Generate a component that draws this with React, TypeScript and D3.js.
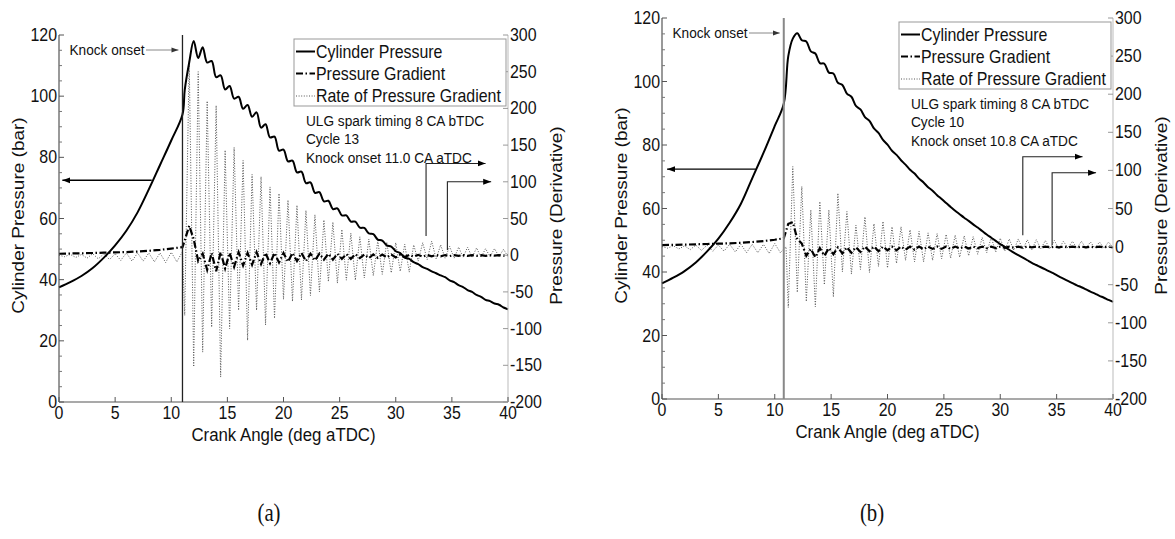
import * as d3 from 'd3';
import React from 'react';

// ---- data ----

// axis ranges and ticks
const angleDomain = [0, 40];
const pressureDomain = [0, 120];
const derivDomain = [-200, 300];
const angleTicks = [0, 5, 10, 15, 20, 25, 30, 35, 40];
const pressureTicks = [0, 20, 40, 60, 80, 100, 120];
const pressureMinor = [5, 10, 15, 25, 30, 35, 45, 50, 55, 65, 70, 75, 85, 90, 95, 105, 110, 115];
const derivTicks = [-200, -150, -100, -50, 0, 50, 100, 150, 200, 250, 300];

// crank angle samples after knock onset (deg aTDC)
const knockAngles = [
  11.2, 11.6, 12.0, 12.4, 12.8, 13.2, 13.6, 14.0, 14.4, 14.8,
  15.2, 15.6, 16.0, 16.4, 16.8, 17.2, 17.6, 18.0, 18.4, 18.8,
  19.2, 19.6, 20.0, 20.4, 20.8, 21.2, 21.6, 22.0, 22.4, 22.8,
  23.2, 23.6, 24.0, 24.4, 24.8, 25.2, 25.6, 26.0, 26.4, 26.8,
  27.2, 27.6, 28.0, 28.4, 28.8, 29.2, 29.6, 30.0, 30.4, 30.8,
  31.2, 31.6, 32.0, 32.4, 32.8, 33.2, 33.6, 34.0, 34.4, 34.8,
  35.2, 35.6, 36.0, 36.4, 36.8, 37.2, 37.6, 38.0, 38.4, 38.8,
  39.2, 39.6, 40.0,
];
// rate samples before knock
const preRateAngles = [0, 0.5, 1, 1.5, 2, 2.5, 3, 3.5, 4, 4.5, 5, 5.5, 6, 6.5, 7, 7.5, 8, 8.5, 9, 9.5, 10, 10.5, 11];

// ---- (a) cycle 13 ----
const preAnglesA = [0, 1, 2, 3, 4, 5, 6, 7, 8, 9, 10, 11];
const prePressureA = [37.5, 39.2, 41.2, 43.8, 47.2, 51.2, 56, 62, 69.5, 77.5, 85.5, 94];
const preGradientA = [2, 2.3, 2.6, 3, 3.4, 3.8, 4.3, 5, 6, 7.3, 9, 11];
const preRateA = [0, -2, 1, -3, 1, -4, 2, -5, 2, -6, 2, -7, 3, -8, 3, -8, 3, -9, 3, -10, 4, -9, 5];
const pressureA = [
  102, 111, 118, 112.5, 116, 111, 111.5, 106.2, 106.8, 102.2,
  103.3, 99.2, 99.8, 95.9, 97.1, 93.3, 94.7, 89.7, 90.8, 86.5,
  86.8, 82.2, 82.5, 78.7, 78.9, 75.1, 75.3, 71.6, 71.8, 68.4,
  68.6, 65.6, 65.8, 63.1, 63.3, 61.0, 61.0, 59.0, 59.0, 57.0,
  56.9, 55.1, 54.9, 53.1, 52.8, 51.2, 50.8, 49.3, 48.7, 47.2,
  46.8, 45.7, 45.1, 44.1, 43.5, 42.7, 42.1, 41.4, 40.8, 39.8,
  39.2, 38.2, 37.6, 36.6, 36.0, 35.0, 34.4, 33.4, 33.0, 32.2,
  31.8, 30.9, 30.3,
];
const gradientA = [
  20, 40, 22, -8, 2, -20, 3, -22, 4, -18,
  3, -16, 4, -14, 3, -13, 4, -12, 3, -11,
  3, -10, 3, -9, 3, -8, 3, -8, 2, -7,
  2, -6, 2, -6, 2, -5, 1.5, -5, 1.5, -4,
  1, -4, 1, -3.5, 1, -3, 1, -3, 0.5, -2.5,
  0.5, -2, 0.5, -2, 0.3, -1.5, 0.3, -1.5, 0.2, -1.2,
  0.2, -1, 0.2, -1, 0, -0.8, 0, -0.8, 0, -0.6,
  0, -0.5, 0,
];
const rateA = [
  -82, 265, -152, 250, -132, 210, -98, 204, -166, 143,
  -100, 147, -75, 129, -116, 110, -75, 107, -95, 93,
  -86, 84, -60, 75, -63, 68, -61, 61, -55, 55,
  -50, 48, -36, 45, -38, 35, -34, 30, -34, 25,
  -31, 22, -28, 20, -26, 18, -24, 17, -22, 15,
  -23, 14, -8, 17, -6, 19, -5, 14, -4, 12,
  -4, 11, -3, 11, -3, 10, -3, 9, -2, 9,
  -2, 8, -2,
];
const knockOnsetA = 11.0;
// [from angle, to angle, pressure]
const leftArrowA = [8.26, 0.3, 72.5];
// [angle, from deriv, to deriv, arrow tip angle]
const rightArrowsA = [[32.7, 26, 125, 38.0], [34.6, 7, 100, 38.5]];
const infoA = ['ULG spark timing 8 CA bTDC', 'Cycle 13', 'Knock onset 11.0 CA aTDC'];

// ---- (b) cycle 10 ----
const preAnglesB = [0, 1, 2, 3, 4, 5, 6, 7, 8, 9, 10, 10.8];
const prePressureB = [36.4, 38.2, 40.3, 43, 46.5, 50.5, 55.5, 61.5, 69.5, 77.5, 86, 93];
const preGradientB = [2, 2.3, 2.6, 3, 3.4, 3.8, 4.3, 5, 6, 7.3, 9, 11];
const preRateB = [0, -2, 1, -3, 1, -4, 2, -5, 2, -6, 2, -6, 3, -7, 3, -8, 3, -8, 3, -9, 4, -8, 0];
const pressureB = [
  108, 113.5, 115.2, 113, 112.6, 109.5, 108.8, 105.8, 105.6, 102.8,
  102.5, 99.6, 98.9, 96.2, 95.2, 92.3, 91.2, 88.8, 87.6, 85.2,
  83.8, 81.6, 80.1, 78.2, 76.9, 75.2, 73.8, 72.2, 71, 69.4,
  68.2, 66.7, 65.6, 64.2, 63, 61.7, 60.5, 59.3, 58.2, 57.1,
  56.1, 55.0, 54.0, 52.9, 51.8, 50.8, 49.8, 48.8, 47.9, 47,
  46.1, 45.3, 44.5, 43.7, 42.9, 42.2, 41.5, 40.8, 40.1, 39.4,
  38.6, 37.9, 37.2, 36.5, 35.8, 35.2, 34.5, 33.8, 33.2, 32.5,
  31.9, 31.2, 30.6,
];
const gradientB = [
  30, 32, 10, 4, -12, -3, -14, -2, -12, -2,
  -10, -1, -9, -1, -8, -1, -7, 0, -6, 0,
  -6, 0, -5, 0, -5, 0, -4, 0, -4, 0,
  -3.5, 0, -3, 0, -3, 0, -3, 0, -2.5, 0,
  -2.5, 0, -2, 0, -2, 0, -2, 0, -1.5, 0,
  -1.5, 0, -1.5, 0, -1, 0, -1, 0, -1, 0,
  -1, 0, -1, 0, -1, 0, -1, 0, -1, 0,
  -1, 0, -1,
];
const rateB = [
  -80, 105, -60, 79, -72, 48, -79, 59, -50, 48,
  -66, 70, -33, 46, -36, 28, -30, 39, -34, 30,
  -26, 33, -28, 26, -22, 26, -18, 22, -20, 20,
  -20, 18, -18, 17, -16, 16, -15, 15, -14, 14,
  -12, 13, -10, 12, -8, 12, -7, 11, -6, 10,
  -5, 10, -4, 9, -4, 9, -3, 8, -3, 8,
  -3, 7, -2, 7, -2, 7, -2, 6, -2, 6,
  -2, 6, -1,
];
const knockOnsetB = 10.8;
const leftArrowB = [8.31, 0.45, 72.4];
const rightArrowsB = [[32, 15, 118, 37.3], [34.6, 2, 97, 38.5]];
const infoB = ['ULG spark timing 8 CA bTDC', 'Cycle 10', 'Knock onset 10.8 CA aTDC'];

const legendLabels = ['Cylinder Pressure', 'Pressure Gradient', 'Rate of Pressure Gradient'];

// ---- layout ----
const W = 1175, H = 539;
const SX = 0.91; // the figure is squeezed a little horizontally
const FONT = '"Liberation Sans", Arial, Helvetica, sans-serif';

const frameA = { x0: 59, x1: 508, y0: 35, y1: 402, cap: '(a)', capX: 269, knockColor: '#222', knockWidth: 1.3 };
const frameB = { x0: 662, x1: 1113, y0: 18, y1: 399, cap: '(b)', capX: 872, knockColor: '#888', knockWidth: 2 };

const STYLE_P = { stroke: '#000', strokeWidth: 2 };
const STYLE_G = { stroke: '#000', strokeWidth: 2.2, strokeDasharray: '7 2.5 1.5 2.5' };
const STYLE_R = { stroke: '#555', strokeWidth: 1, strokeDasharray: '1 1.6' };

function Txt({ x, y, size, anchor = 'start', rotate = false, fill = '#111', family = FONT, sx = SX, children }: any) {
  const tf = rotate
    ? `translate(${x},${y}) scale(${sx},1) rotate(-90)`
    : `translate(${x},${y}) scale(${sx},1)`;
  return (
    <text transform={tf} fontSize={size} fontFamily={family} textAnchor={anchor} fill={fill}>
      {children}
    </text>
  );
}

function Panel({ f, d }: any) {
  const x = d3.scaleLinear().domain(angleDomain).range([f.x0, f.x1]);
  const yL = d3.scaleLinear().domain(pressureDomain).range([f.y1, f.y0]);
  const yR = d3.scaleLinear().domain(derivDomain).range([f.y1, f.y0]);

  const lineL = d3.line<number[]>().x(p => x(p[0])).y(p => yL(p[1])).curve(d3.curveCatmullRom.alpha(0.5));
  const lineR = d3.line<number[]>().x(p => x(p[0])).y(p => yR(p[1]));

  const pressurePts = [
    ...d.preAngles.map((a: number, i: number) => [a, d.prePressure[i]]),
    ...knockAngles.map((a, i) => [a, d.pressure[i]]),
  ];
  const gradientPts = [
    ...d.preAngles.map((a: number, i: number) => [a, d.preGradient[i]]),
    ...knockAngles.map((a, i) => [a, d.gradient[i]]),
  ];
  const ratePts = [
    ...preRateAngles.map((a, i) => [a, d.preRate[i]]),
    ...knockAngles.map((a, i) => [a, d.rate[i]]),
  ];

  const midY = (f.y0 + f.y1) / 2 - 3;
  const kx = x(d.knock);
  const lg = { x0: f.x1 - 214, x1: f.x1 - 2, y0: f.y0 + 4, y1: f.y0 + 71 };
  const lgRows = [22.5, 44.5, 67];
  const lgStyles = [STYLE_P, STYLE_G, STYLE_R];

  return (
    <g>
      {/* data */}
      <path d={lineR(ratePts) || ''} fill="none" {...STYLE_R} />
      <path d={lineR(gradientPts) || ''} fill="none" {...STYLE_G} />
      <path d={lineL(pressurePts) || ''} fill="none" {...STYLE_P} />

      {/* axes */}
      <line x1={f.x0} x2={f.x1} y1={f.y1} y2={f.y1} stroke="#555" strokeWidth={1.2} />
      <line x1={f.x0} x2={f.x0} y1={f.y0} y2={f.y1} stroke="#555" strokeWidth={1.2} />
      <line x1={f.x1} x2={f.x1} y1={f.y0} y2={f.y1} stroke="#bbb" strokeWidth={1} />

      {angleTicks.map(t => (
        <g key={'x' + t}>
          <line x1={x(t)} x2={x(t)} y1={f.y1} y2={f.y1 - 5} stroke="#555" />
          <Txt x={x(t)} y={f.y1 + 17} size={17.5} anchor="middle">{String(t)}</Txt>
        </g>
      ))}
      {pressureTicks.map(t => (
        <g key={'l' + t}>
          <line x1={f.x0} x2={f.x0 + 5} y1={yL(t)} y2={yL(t)} stroke="#555" />
          <Txt x={f.x0 - 2} y={yL(t) + 6} size={17.5} anchor="end">{String(t)}</Txt>
        </g>
      ))}
      {pressureMinor.map(t => (
        <line key={'lm' + t} x1={f.x0} x2={f.x0 + 3} y1={yL(t)} y2={yL(t)} stroke="#777" />
      ))}
      {derivTicks.map(t => (
        <g key={'r' + t}>
          <line x1={f.x1} x2={f.x1 - 5} y1={yR(t)} y2={yR(t)} stroke="#999" />
          <Txt x={f.x1 + 2} y={yR(t) + 6} size={17.5}>{String(t)}</Txt>
        </g>
      ))}

      {/* axis titles */}
      <Txt x={(f.x0 + f.x1) / 2} y={f.y1 + 38.5} size={18.5} anchor="middle">Crank Angle (deg aTDC)</Txt>
      <Txt x={f.x0 - 35} y={midY} size={19} anchor="middle" rotate>Cylinder Pressure (bar)</Txt>
      <Txt x={f.x1 + 54} y={midY} size={19} anchor="middle" rotate>Pressure (Derivative)</Txt>

      {/* knock onset marker */}
      <line x1={kx} x2={kx} y1={f.y0} y2={f.y1} stroke={f.knockColor} strokeWidth={f.knockWidth} />
      <Txt x={f.x0 + 10.5} y={f.y0 + 20} size={15}>Knock onset</Txt>
      <line x1={f.x0 + 87} x2={kx - 4} y1={f.y0 + 15} y2={f.y0 + 15} stroke="#888" strokeWidth={1} markerEnd="url(#arrGray)" />

      {/* arrows telling which axis each curve uses */}
      <line x1={x(d.leftArrow[0])} x2={x(d.leftArrow[1])} y1={yL(d.leftArrow[2])} y2={yL(d.leftArrow[2])}
        stroke="#000" strokeWidth={1.3} markerEnd="url(#arrBlack)" />
      {d.rightArrows.map((a: number[], i: number) => (
        <polyline key={'ra' + i}
          points={`${x(a[0])},${yR(a[1])} ${x(a[0])},${yR(a[2])} ${x(a[3])},${yR(a[2])}`}
          fill="none" stroke="#222" strokeWidth={1.1} markerEnd="url(#arrBlack)" />
      ))}

      {/* info text */}
      {d.info.map((s: string, i: number) => (
        <Txt key={'i' + i} x={f.x1 - 202} y={f.y0 + 91 + i * 18.3} size={15}>{s}</Txt>
      ))}

      {/* legend */}
      <rect x={lg.x0} y={lg.y0} width={lg.x1 - lg.x0} height={lg.y1 - lg.y0} fill="#fff" stroke="#999" strokeWidth={1} />
      {legendLabels.map((s, i) => (
        <g key={'lg' + i}>
          <line x1={lg.x0 + 2} x2={lg.x0 + 21} y1={f.y0 + lgRows[i] - 6} y2={f.y0 + lgRows[i] - 6}
            {...lgStyles[i]} strokeWidth={i === 2 ? 1 : 2} />
          <Txt x={lg.x0 + 22} y={f.y0 + lgRows[i]} size={17.5}>{s}</Txt>
        </g>
      ))}

      {/* caption */}
      <Txt x={f.capX} y={521} size={26} anchor="middle" family='"Liberation Serif", "Times New Roman", serif' sx={0.8}>{f.cap}</Txt>
    </g>
  );
}

export default function App() {
  const dA = {
    preAngles: preAnglesA, prePressure: prePressureA, preGradient: preGradientA, preRate: preRateA,
    pressure: pressureA, gradient: gradientA, rate: rateA, knock: knockOnsetA,
    leftArrow: leftArrowA, rightArrows: rightArrowsA, info: infoA,
  };
  const dB = {
    preAngles: preAnglesB, prePressure: prePressureB, preGradient: preGradientB, preRate: preRateB,
    pressure: pressureB, gradient: gradientB, rate: rateB, knock: knockOnsetB,
    leftArrow: leftArrowB, rightArrows: rightArrowsB, info: infoB,
  };
  return (
    <svg width={W} height={H} style={{ position: 'absolute', left: 0, top: 0, background: '#fff' }}>
      <defs>
        <marker id="arrBlack" markerUnits="userSpaceOnUse" markerWidth={9} markerHeight={7} refX={8} refY={3.5} orient="auto">
          <path d="M0,0.5 L8,3.5 L0,6.5 z" fill="#000" />
        </marker>
        <marker id="arrGray" markerUnits="userSpaceOnUse" markerWidth={8} markerHeight={6} refX={7} refY={3} orient="auto">
          <path d="M0,0.5 L7,3 L0,5.5 z" fill="#333" />
        </marker>
      </defs>
      <Panel f={frameA} d={dA} />
      <Panel f={frameB} d={dB} />
    </svg>
  );
}
